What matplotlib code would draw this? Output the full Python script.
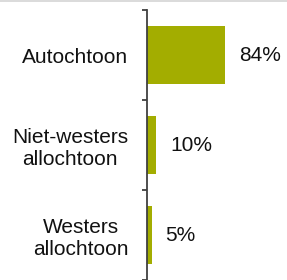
import matplotlib
matplotlib.use("Agg")
import matplotlib.pyplot as plt
from matplotlib.lines import Line2D

categories = ["Autochtoon", "Niet-westers\nallochtoon", "Westers\nallochtoon"]
values = [84, 10, 5]
value_labels = ["84%", "10%", "5%"]

plt.rcParams['font.family'] = ['Liberation Sans', 'DejaVu Sans']

W, H = 287, 280
fig = plt.figure(figsize=(W / 100, H / 100), dpi=100)
ax = fig.add_axes([147 / W, 0, 140 / W, 270 / H])

y = list(range(len(categories)))
ax.barh(y, values, height=0.65, color="#A3AD00", edgecolor="none")
ax.set_ylim(len(categories) - 0.5, -0.5)
ax.set_xlim(0, 150)

for yi, v, lab in zip(y, values, value_labels):
    ax.annotate(lab, xy=(v, yi), xytext=(10, 0), textcoords="offset points",
                ha="left", va="center", fontsize=15, color="#111111")

ax.set_yticks(y)
ax.set_yticklabels(categories, fontsize=15, color="#111111", multialignment="center")
ax.tick_params(axis="y", which="major", length=0, pad=13.5)
ax.set_yticks([-0.5, 0.5, 1.5, 2.5], minor=True)
ax.tick_params(axis="y", which="minor", length=3.6, width=1.3, color="#404040", direction="out")
ax.set_xticks([])

for s in ["top", "right", "bottom"]:
    ax.spines[s].set_visible(False)
ax.spines["left"].set_color("#404040")
ax.spines["left"].set_linewidth(1.3)

fig.add_artist(Line2D([0, 1], [1 - 0.5 / H, 1 - 0.5 / H], transform=fig.transFigure,
                      color="#d4d4d4", linewidth=1.2))

fig.savefig("out.png", dpi=100)
